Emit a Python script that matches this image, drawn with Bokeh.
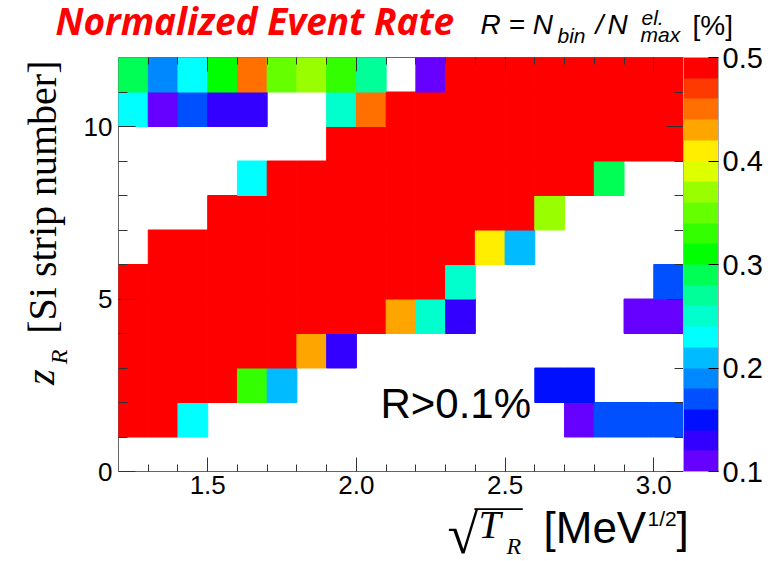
from bokeh.plotting import figure
from bokeh.layouts import column, row
from bokeh.models import (LinearAxis, FixedTicker, ColorBar, LinearColorMapper, Label,
                          ColumnDataSource, CustomJSTickFormatter, Range1d, NumeralTickFormatter)
from bokeh.transform import transform
from bokeh.embed import file_html
from bokeh.resources import INLINE
import math

# ---------------- data ----------------
# bin centres of sqrt(T_R) [MeV^1/2], bin width 0.1
sqrt_t_bins = [1.25, 1.35, 1.45, 1.55, 1.65, 1.75, 1.85, 1.95, 2.05, 2.15,
               2.25, 2.35, 2.45, 2.55, 2.65, 2.75, 2.85, 2.95, 3.05]
# strip index (lower edge) of each row
z_strips = [1, 2, 3, 4, 5, 6, 7, 8, 9, 10, 11]
N = None   # below threshold (R <= 0.1 %)
S = 0.6    # saturated (> 0.5 %)
rate_z1  = [S, S, 0.23, N, N, N, N, N, N, N, N, N, N, N, N, 0.11, 0.17, 0.17, 0.17]
rate_z2  = [S, S, S, S, 0.33, 0.21, N, N, N, N, N, N, N, N, 0.15, 0.15, N, N, N]
rate_z3  = [S, S, S, S, S, S, 0.43, 0.13, N, N, N, N, N, N, N, N, N, N, N]
rate_z4  = [S, S, S, S, S, S, S, S, S, 0.43, 0.25, 0.13, N, N, N, N, N, 0.11, 0.11]
rate_z5  = [S, S, S, S, S, S, S, S, S, S, S, 0.25, N, N, N, N, N, N, 0.17]
rate_z6  = [N, S, S, S, S, S, S, S, S, S, S, S, 0.41, 0.21, N, N, N, N, N]
rate_z7  = [N, N, N, S, S, S, S, S, S, S, S, S, S, S, 0.37, N, N, N, N]
rate_z8  = [N, N, N, N, 0.23, S, S, S, S, S, S, S, S, S, S, S, 0.29, N, N]
rate_z9  = [N, N, N, N, N, N, N, S, S, S, S, S, S, S, S, S, S, S, S]
rate_z10 = [0.23, 0.11, 0.17, 0.13, 0.13, N, N, 0.25, 0.45, S, S, S, S, S, S, S, S, S, S]
rate_z11 = [0.29, 0.19, 0.23, 0.31, 0.45, 0.35, 0.37, 0.33, 0.27, N, 0.11, S, S, S, S, S, S, S, S]
rows = [rate_z1, rate_z2, rate_z3, rate_z4, rate_z5, rate_z6, rate_z7, rate_z8,
        rate_z9, rate_z10, rate_z11]

x_ticks = [1.5, 2.0, 2.5, 3.0]
x_minor = [1.3, 1.4, 1.5, 1.6, 1.7, 1.8, 1.9, 2.0, 2.1, 2.2, 2.3, 2.4, 2.5, 2.6, 2.7,
           2.8, 2.9, 3.0]
y_ticks = [0, 5, 10]
y_minor = [1, 2, 3, 4, 5, 6, 7, 8, 9, 10, 11]
cbar_ticks = [0.1, 0.2, 0.3, 0.4, 0.5]

palette = ["#6600ff", "#3300ff", "#0010ff", "#0050ff", "#0088ff", "#00bbff", "#00ffff",
           "#00ffcc", "#00ff99", "#00ff55", "#00ff00", "#33ff00", "#66ff00", "#99ff00",
           "#ddff00", "#ffee00", "#ffa500", "#ff7000", "#ff3a00", "#ff0000"]

xs, ys, vs = [], [], []
for z, r in zip(z_strips, rows):
    for xc, v in zip(sqrt_t_bins, r):
        if v is not None:
            xs.append(xc)
            ys.append(z + 0.5)
            vs.append(v)
src = ColumnDataSource(dict(x=xs, y=ys, v=vs))

FONT = "Liberation Sans"
SERIF = "Liberation Serif"
TICK_COL = "#333333"
K = 0.41   # baseline correction (fraction of font size)

# ---------------- main heat map ----------------
TOP_H, BOT_Y, LEFT_W = 46, 506, 75
p = figure(width=779 - LEFT_W, height=BOT_Y - TOP_H, x_range=Range1d(1.2, 3.1),
           y_range=Range1d(0, 12), output_backend="svg", toolbar_location=None,
           min_border_left=118 - LEFT_W, min_border_right=96,
           min_border_top=57 - TOP_H, min_border_bottom=BOT_Y - 471)
p.background_fill_color = "white"
p.border_fill_color = "white"
p.outline_line_color = "#666666"
p.outline_line_width = 1
p.xgrid.visible = False
p.ygrid.visible = False

mapper = LinearColorMapper(palette=palette, low=0.1, high=0.5, high_color="#ff0000")
p.rect(x="x", y="y", width=0.1, height=1.0, source=src,
       fill_color=transform("v", mapper), line_color=transform("v", mapper), line_width=1)


def style_axis(ax, major_in, minor_in):
    ax.major_tick_in = major_in
    ax.major_tick_out = 0
    ax.minor_tick_in = minor_in
    ax.minor_tick_out = 0
    ax.axis_line_color = None
    ax.major_tick_line_color = TICK_COL
    ax.minor_tick_line_color = TICK_COL


xa = p.xaxis[0]
xa.ticker = FixedTicker(ticks=x_ticks, minor_ticks=x_minor)
xa.formatter = NumeralTickFormatter(format="0.0")
style_axis(xa, 14, 7)
xa.major_label_text_font = FONT
xa.major_label_text_font_size = "26px"
xa.major_label_text_color = "black"
xa.major_label_standoff = 4

ya = p.yaxis[0]
ya.ticker = FixedTicker(ticks=y_ticks, minor_ticks=y_minor)
style_axis(ya, 17, 9)
ya.major_label_text_font = FONT
ya.major_label_text_font_size = "26px"
ya.major_label_text_color = "black"
ya.major_label_standoff = 6

blank = CustomJSTickFormatter(code="return ''")
top_ax = LinearAxis(ticker=FixedTicker(ticks=x_ticks, minor_ticks=x_minor), formatter=blank,
                    major_label_standoff=0, major_label_text_font_size="1px")
style_axis(top_ax, 14, 7)
p.add_layout(top_ax, "above")
right_ax = LinearAxis(ticker=FixedTicker(ticks=y_ticks, minor_ticks=y_minor), formatter=blank,
                      major_label_standoff=0, major_label_text_font_size="1px")
style_axis(right_ax, 17, 9)
p.add_layout(right_ax, "right")

cb = ColorBar(color_mapper=mapper, ticker=FixedTicker(ticks=cbar_ticks),
              formatter=NumeralTickFormatter(format="0.0"),
              width=35, height=414, padding=0, margin=3,
              major_tick_in=10, major_tick_out=0, major_tick_line_color="black",
              major_tick_line_width=1,
              minor_tick_line_color=None, bar_line_color="#aaaaaa",
              label_standoff=4, major_label_text_font=FONT, major_label_text_font_size="29px",
              major_label_text_color="black",
              background_fill_color=None, border_line_color=None)
p.add_layout(cb, "right")


# ---------------- text panels (canvas pixel coordinates) ----------------
def text_panel(x0, y0, w, h):
    f = figure(width=w, height=h, x_range=Range1d(x0, x0 + w), y_range=Range1d(y0 + h, y0),
               output_backend="svg", toolbar_location=None, min_border=0,
               x_axis_location=None, y_axis_location=None)
    f.outline_line_color = None
    f.xgrid.visible = False
    f.ygrid.visible = False
    f.background_fill_color = "white"
    f.border_fill_color = "white"
    return f


def lab(f, text, px, py, size, font=FONT, style="normal", color="black"):
    """px = left edge, py = wanted baseline (canvas pixels)."""
    f.add_layout(Label(x=px, y=py - K * size, text=text, text_font=font,
                       text_font_style=style, text_font_size="%dpx" % size,
                       text_color=color, text_baseline="alphabetic", text_align="left"))


def vlab(f, text, bx, py, size, font=SERIF, style="normal"):
    """Rotated text reading upward: bx = wanted baseline x, py = wanted start y."""
    f.add_layout(Label(x=bx - K * size, y=py + 0.45 * size, text=text, text_font=font,
                       text_font_style=style, text_font_size="%dpx" % size,
                       text_color="black", text_baseline="alphabetic", text_align="left",
                       angle=math.pi / 2))


top = text_panel(0, 0, 779, TOP_H)
lab(top, "Normalized Event Rate", 55, 35, 37, font="Open Sans", style="bold italic",
    color="#ff0000")
lab(top, "R = N", 480, 35, 28, style="italic")
lab(top, "bin", 557, 44, 21, style="italic")
lab(top, "/", 595, 35, 28, style="italic")
lab(top, "N", 607, 35, 28, style="italic")
lab(top, "el.", 641, 26, 21, style="italic")
lab(top, "max", 640, 43, 21, style="italic")
lab(top, "[%]", 692, 36, 28)

left = text_panel(0, TOP_H, LEFT_W, BOT_Y - TOP_H)
vlab(left, "z", 56, 392, 40, style="italic")
vlab(left, "R", 68, 376, 24, style="italic")
vlab(left, "[Si strip number]", 58, 335, 40)

bottom = text_panel(0, BOT_Y, 779, 561 - BOT_Y)
lab(bottom, "\u221a", 447, 556, 56, font=SERIF)
lab(bottom, "\u2500\u2500\u2500\u2500", 474, 517, 20, font="DejaVu Sans")
lab(bottom, "T", 478, 540, 40, font=SERIF, style="italic")
lab(bottom, "R", 506, 555, 24, font=SERIF, style="italic")
lab(bottom, "[MeV", 543, 545, 44)
lab(bottom, "1/2", 647, 527, 21)
lab(bottom, "]", 676, 545, 44)

# threshold note inside the frame (data coordinates of the heat map)
p.add_layout(Label(x=2.081, y=1.97, text="R>0.1%", text_font=FONT, text_font_size="42px",
                   text_color="black", text_baseline="alphabetic", text_align="left"))

layout = column(top, row(left, p, spacing=0), bottom, spacing=0)
open("out.html", "w").write(file_html(layout, INLINE))
